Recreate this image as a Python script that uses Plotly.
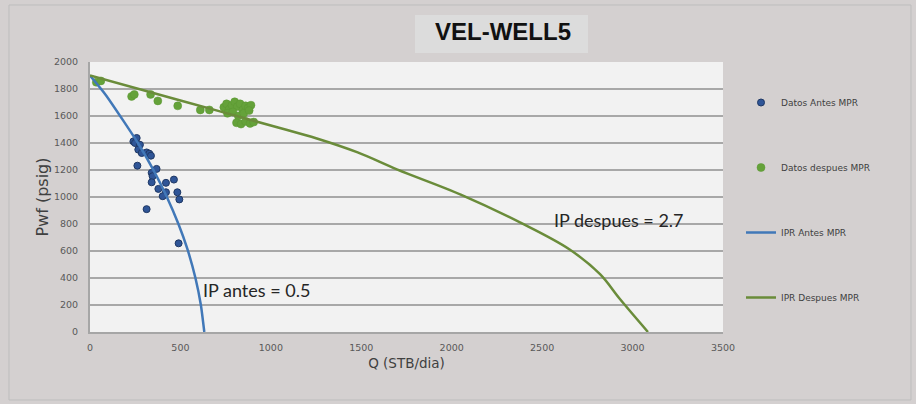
import plotly.graph_objects as go

# plot area in pixels (916x404 canvas)
W, H = 916, 404
L, R, T, B = 90, 723, 62, 332

# --- data ---
antes_q = [240, 258, 249, 276, 267, 286, 313, 328, 337, 262, 368, 341, 346, 341,
           420, 464, 378, 420, 483, 402, 494, 313, 490]
antes_p = [1412, 1437, 1400, 1387, 1351, 1326, 1330, 1321, 1306, 1232, 1208, 1179,
           1154, 1109, 1105, 1129, 1060, 1035, 1035, 1006, 982, 910, 657]

despues_q = [35, 60, 230, 245, 335, 375, 485, 610, 660, 740, 755, 770, 785, 800, 815,
             830, 845, 860, 875, 890, 760, 790, 820, 850, 880, 810, 835, 860, 885, 905]
despues_p = [1850, 1860, 1745, 1760, 1760, 1712, 1675, 1645, 1645, 1665, 1690, 1650,
             1680, 1705, 1670, 1690, 1645, 1675, 1660, 1680, 1620, 1630, 1600, 1620,
             1640, 1550, 1540, 1560, 1545, 1555]

ipr_antes_q = [0, 85, 183, 265, 351, 425, 489, 537, 583, 613, 632]
ipr_antes_p = [1900, 1760, 1568, 1400, 1199, 1000, 800, 621, 400, 200, 0]

ipr_despues_q = [0, 500, 1050, 1250, 1480, 1700, 2050, 2380, 2650, 2820, 2930, 3085]
ipr_despues_p = [1900, 1715, 1511, 1435, 1330, 1203, 1018, 810, 613, 428, 244, 0]

x_ticks = [0, 500, 1000, 1500, 2000, 2500, 3000, 3500]
y_ticks = [0, 200, 400, 600, 800, 1000, 1200, 1400, 1600, 1800, 2000]


def px(x):
    return (x - L) / (R - L)


def py(y):
    return (B - y) / (B - T)


fig = go.Figure()

fig.add_trace(go.Scatter(
    x=antes_q, y=antes_p, mode="markers", name="Datos Antes MPR", legendgroup="a",
    marker=dict(color="#2f5597", size=7, line=dict(color="#1f3864", width=1)),
))
fig.add_trace(go.Scatter(
    x=despues_q, y=despues_p, mode="markers", name="Datos despues MPR", legendgroup="b",
    marker=dict(color="#65a23a", size=8, line=dict(color="#5a9632", width=0.5)),
))
fig.add_trace(go.Scatter(
    x=ipr_antes_q, y=ipr_antes_p, mode="lines", name="IPR Antes MPR", legendgroup="c",
    line=dict(color="#4178b8", width=2.5, shape="spline", smoothing=0.6),
))
fig.add_trace(go.Scatter(
    x=ipr_despues_q, y=ipr_despues_p, mode="lines", name="IPR Despues MPR", legendgroup="d",
    line=dict(color="#6a8c3a", width=2.5, shape="spline", smoothing=1.0),
))

axis_font = dict(family="DejaVu Sans", size=9.5, color="#595959")

fig.update_layout(
    width=W, height=H,
    margin=dict(l=L, r=W - R, t=T, b=H - B),
    paper_bgcolor="#d4d0d0",
    plot_bgcolor="#f2f2f2",
    font=dict(family="DejaVu Sans", color="#404040"),
    showlegend=True,
    legend=dict(
        x=px(741), y=py(88), xanchor="left", yanchor="top",
        bgcolor="rgba(0,0,0,0)", font=dict(family="DejaVu Sans", size=9, color="#404040"),
        tracegroupgap=46, itemwidth=30,
    ),
)

fig.update_xaxes(
    range=[0, 3500], tickvals=x_ticks, showgrid=False, zeroline=False,
    showline=True, linecolor="#a6a6a6", linewidth=2, ticks="",
    tickfont=axis_font, ticklabelstandoff=6,
    title=dict(text="Q (STB/dia)", font=dict(family="DejaVu Sans", size=13.5, color="#404040"), standoff=6),
)
fig.update_yaxes(
    range=[0, 2000], tickvals=y_ticks, showgrid=True, gridcolor="#a8a8a8", gridwidth=1.5,
    zeroline=False, showline=True, linecolor="#a6a6a6", linewidth=2, ticks="",
    tickfont=axis_font, ticklabelstandoff=8,
    title=dict(text="Pwf (psig)", font=dict(family="DejaVu Sans", size=16, color="#404040"), standoff=1),
)

# title box + outer frame
fig.add_shape(type="rect", xref="paper", yref="paper", x0=px(415), x1=px(588), y0=py(53), y1=py(15),
              fillcolor="#dcdcdc", line=dict(width=0), layer="below")
fig.add_shape(type="rect", xref="paper", yref="paper", x0=px(9), x1=px(911), y0=py(400), y1=py(5),
              fillcolor="rgba(0,0,0,0)", line=dict(color="#bdbdbd", width=1), layer="below")
fig.add_annotation(
    xref="paper", yref="paper", x=px(503), y=py(32), xanchor="center", yanchor="middle",
    text="<b>VEL-WELL5</b>", showarrow=False,
    font=dict(family="Liberation Sans", size=24, color="#111111"),
)

# IP labels
fig.add_annotation(x=918, y=314, text="IP antes = 0.5", showarrow=False,
                   font=dict(family="Lato", size=18, color="#262626"))
fig.add_annotation(x=2925, y=830, text="IP despues = 2.7", showarrow=False,
                   font=dict(family="Lato", size=18, color="#262626"))

fig.write_html("out.html", config={"displayModeBar": False},
               post_script="document.body.style.margin='0';")
